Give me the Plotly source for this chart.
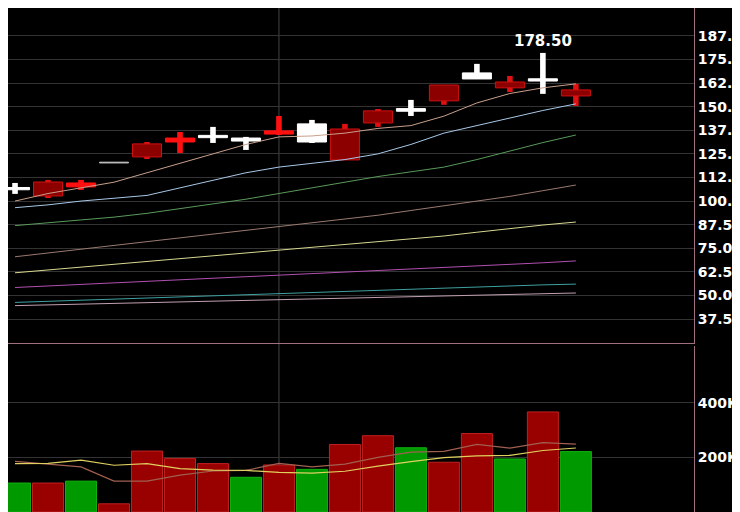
import plotly.graph_objects as go

idx = list(range(18))
opens  = [106.0, 110.1, 109.6, 120.2, 130.3, 133.4, 134.8, 133.4, 137.2, 131.3, 138.2, 147.8, 147.6, 161.5, 164.7, 163.1, 163.6, 158.9]
closes = [107.2, 102.7, 107.5, 120.2, 123.4, 131.3, 133.6, 131.8, 135.5, 140.9, 121.8, 141.4, 149.0, 153.1, 167.9, 160.0, 164.8, 155.7]
highs  = [109.6, 111.2, 111.2, 120.2, 131.3, 136.6, 139.3, 134.0, 145.1, 143.0, 140.9, 148.8, 153.6, 161.5, 172.7, 166.3, 178.5, 162.1]
lows   = [103.8, 101.6, 105.9, 120.2, 122.3, 125.5, 130.8, 127.1, 135.0, 130.8, 121.8, 139.3, 145.1, 151.0, 164.7, 157.8, 156.8, 150.4]
styles = ["w", "d", "r", "g", "d", "r", "w", "w", "r", "w", "d", "d", "w", "d", "w", "d", "w", "d"]

ma1 = [100, 104, 107, 110, 115, 120, 125, 130, 134, 134.5, 136, 138.5, 140, 145, 152, 157, 160, 162.1]
ma2 = [96.5, 98, 100, 101.5, 103, 107, 111, 115, 118, 120, 122, 125, 130, 136, 140, 144, 148, 151.5]
ma3 = [87, 88.5, 90, 91.5, 93.5, 96, 98.5, 101, 104, 107, 110, 113, 115.5, 118, 122, 126.5, 131, 135]
ma4 = [70.5, 72.5, 74.5, 76.5, 78.5, 80.5, 82.5, 84.5, 86.5, 88.5, 90.5, 92.5, 95, 97.5, 100, 102.5, 105.5, 108.5]
ma5 = [62, 63.5, 65, 66.5, 68, 69.5, 71, 72.5, 74, 75.5, 77, 78.5, 80, 81.5, 83.5, 85.5, 87.3, 88.9]
ma6 = [54.2, 55, 55.8, 56.6, 57.4, 58.2, 59, 59.8, 60.6, 61.4, 62.2, 63, 63.8, 64.6, 65.5, 66.4, 67.3, 68.3]
ma7 = [46.3, 46.9, 47.5, 48, 48.6, 49.2, 49.8, 50.4, 51, 51.5, 52.1, 52.7, 53.3, 53.9, 54.5, 55.1, 55.6, 56]
ma8 = [44.6, 45, 45.4, 45.8, 46.2, 46.6, 47, 47.4, 47.8, 48.2, 48.6, 49, 49.4, 49.8, 50.2, 50.6, 51, 51.3]
ma_colors = ["#c8a08c", "#a8c8e8", "#5a9a5a", "#9a7a70", "#d8d890", "#b050b0", "#40a0a0", "#c0a0b0"]

volume = [106e3, 106e3, 113e3, 30e3, 223e3, 196e3, 177e3, 127e3, 172e3, 156e3, 247e3, 279e3, 235e3, 182e3, 287e3, 194e3, 366e3, 221e3]
vol_up = [True, False, True, False, False, False, False, True, False, True, False, False, True, False, False, True, False, True]
vma1 = [185e3, 175e3, 165e3, 113e3, 113e3, 135e3, 150e3, 152e3, 178e3, 165e3, 175e3, 200e3, 219e3, 222e3, 247e3, 234e3, 254e3, 248e3]
vma2 = [177e3, 178e3, 190e3, 171e3, 177e3, 159e3, 153e3, 152e3, 145e3, 142e3, 149e3, 168e3, 184e3, 199e3, 205e3, 207e3, 225e3, 234e3]

price_ticks = [37.5, 50, 62.5, 75, 87.5, 100, 112.5, 125, 137.5, 150, 162.5, 175, 187.5]
price_labels = ["37.5", "50.0", "62.5", "75.0", "87.5", "100.0", "112.5", "125.0", "137.5", "150.0", "162.5", "175.0", "187.5"]
vol_ticks = [200e3, 400e3]
vol_labels = ["200K", "400K"]

fill_map = {"w": "#ffffff", "d": "#8c0000", "r": "#ff1010", "g": "#c0c0c0"}
line_map = {"w": "#ffffff", "d": "#d01010", "r": "#ff1010", "g": "#c0c0c0"}
wick_map = {"w": "#ffffff", "d": "#e01010", "r": "#ff1010", "g": "#c0c0c0"}

fig = go.Figure()
fig.add_trace(go.Bar(x=idx, base=lows, y=[h - l for h, l in zip(highs, lows)], width=0.17,
                     marker=dict(color=[wick_map[s] for s in styles], line=dict(width=0)),
                     yaxis="y", xaxis="x", hoverinfo="skip"))
bases = [min(o, c) for o, c in zip(opens, closes)]
heights = [max(abs(c - o), 0.4) for o, c in zip(opens, closes)]
fig.add_trace(go.Bar(x=idx, base=bases, y=heights, width=0.88,
                     marker=dict(color=[fill_map[s] for s in styles],
                                 line=dict(color=[line_map[s] for s in styles], width=1)),
                     yaxis="y", xaxis="x"))
for ma, col in zip([ma1, ma2, ma3, ma4, ma5, ma6, ma7, ma8], ma_colors):
    fig.add_trace(go.Scatter(x=idx, y=ma, mode="lines", line=dict(color=col, width=1), yaxis="y", xaxis="x"))

fig.add_trace(go.Bar(x=idx, y=volume, width=0.94,
                     marker=dict(color=["#009a00" if u else "#990000" for u in vol_up],
                                 line=dict(color=["#10b010" if u else "#c02020" for u in vol_up], width=1)),
                     xaxis="x2", yaxis="y2"))
fig.add_trace(go.Scatter(x=idx, y=vma1, mode="lines", line=dict(color="#a06050", width=1.2), xaxis="x2", yaxis="y2"))
fig.add_trace(go.Scatter(x=idx, y=vma2, mode="lines", line=dict(color="#e0d060", width=1.2), xaxis="x2", yaxis="y2"))

hi_i = highs.index(max(highs))
fig.add_annotation(x=hi_i, y=highs[hi_i], text=f"<b>{highs[hi_i]:.2f}</b>", showarrow=False, yanchor="bottom",
                   yshift=1, font=dict(color="white", size=15, family="DejaVu Sans"), xref="x", yref="y")

xr = [-0.213, 20.58]
tickfont = dict(color="white", size=14, family="DejaVu Sans")
fig.update_layout(
    width=740, height=512, margin=dict(l=0, r=0, t=0, b=0),
    paper_bgcolor="black", plot_bgcolor="black", showlegend=False, barmode="overlay",
    xaxis=dict(domain=[0, 0.927], range=xr, showticklabels=False, showgrid=False, zeroline=False,
               anchor="y", showline=True, linecolor="#a07080", linewidth=1),
    yaxis=dict(domain=[0.3457, 1.0], range=[24.8, 202.3], side="right", tickvals=price_ticks,
               ticktext=[f"<b>{t}</b>" for t in price_labels],
               tickfont=tickfont, gridcolor="#333333", gridwidth=1, zeroline=False,
               showline=True, linecolor="#a07080", mirror=True, anchor="x"),
    xaxis2=dict(domain=[0, 0.927], range=xr, showticklabels=False, showgrid=False, zeroline=False, anchor="y2"),
    yaxis2=dict(domain=[0.0156, 0.3398], range=[0, 607e3], side="right", tickvals=vol_ticks,
                ticktext=[f"<b>{t}</b>" for t in vol_labels],
                tickfont=tickfont, gridcolor="#333333", zeroline=False,
                showline=True, linecolor="#a07080", mirror=True, anchor="x2"),
    shapes=[dict(type="line", xref="x", yref="paper", x0=8, x1=8, y0=0, y1=1.0,
                 line=dict(color="#444444", width=1), layer="below")],
)
fig.write_html("out.html")
